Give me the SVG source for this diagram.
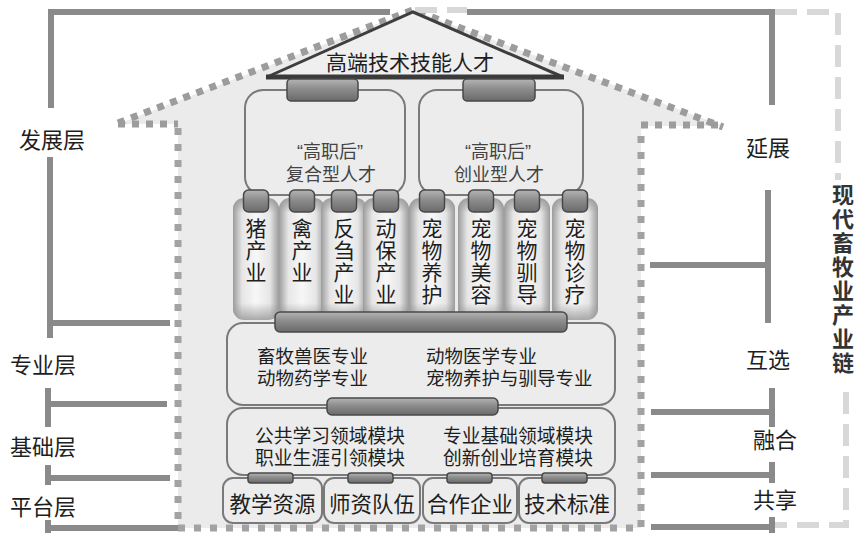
<svg xmlns="http://www.w3.org/2000/svg" width="858" height="533" viewBox="0 0 858 533">
<defs>
<linearGradient id="barG" x1="0" y1="0" x2="0" y2="1">
<stop offset="0" stop-color="#b4b4b4"/><stop offset="0.45" stop-color="#8c8c8c"/><stop offset="1" stop-color="#6a6a6a"/>
</linearGradient>
<linearGradient id="colH" x1="0" y1="0" x2="1" y2="0">
<stop offset="0" stop-color="#9c9c9c"/><stop offset="0.2" stop-color="#e6e6e6"/><stop offset="0.5" stop-color="#f7f7f7"/><stop offset="0.8" stop-color="#e6e6e6"/><stop offset="1" stop-color="#9c9c9c"/>
</linearGradient>
<linearGradient id="colV" x1="0" y1="0" x2="0" y2="1">
<stop offset="0" stop-color="#969696" stop-opacity="0.9"/><stop offset="0.12" stop-color="#969696" stop-opacity="0"/><stop offset="0.86" stop-color="#969696" stop-opacity="0"/><stop offset="1" stop-color="#969696" stop-opacity="0.8"/>
</linearGradient>
<style>
.t{font-family:'Liberation Sans','Noto Sans CJK SC',sans-serif;fill:#1e1e1e}
.g{fill:#444}
.box{fill:#ececec;stroke:#7a7a7a;stroke-width:2}
.bar{fill:url(#barG);stroke:#484848;stroke-width:1.5}
.dk{fill:none;stroke:#8a8a8a;stroke-width:6}
.lt{fill:none;stroke:#d8d8d8;stroke-width:6;stroke-dasharray:22 10}
.dot{fill:none;stroke:#a2a2a2;stroke-width:7;stroke-dasharray:7 9}
.rdot{fill:none;stroke:#9c9c9c;stroke-width:7;stroke-dasharray:7 7}
.ct{font-size:21px;text-anchor:middle}
.ch{font-size:22px;font-weight:bold;text-anchor:middle;fill:#333}
</style>
</defs>
<rect width="858" height="533" fill="#ffffff"/>

<g id="house">
<polygon points="118,124 413,10 723,126 641,126 641,528 178,528 178,124" fill="#ebebeb"/>
<path class="rdot" d="M118,123 L413,10 L723,127"/>
<path class="rdot" d="M118,124 H178 M641,125 H723"/>
<path class="dot" d="M178,128 V528 H641 V128"/>
</g>

<g id="connectors">
<path class="dk" d="M390,12 H51 V108"/>
<path class="dk" d="M50,157 V338 M50,323 H170"/>
<path class="dk" d="M48,388 V427 M48,404 H167"/>
<path class="dk" d="M48,465 V485 M48,478 H170"/>
<path class="dk" d="M48,520 V533 M48,528 H178"/>
<path class="dk" d="M467,12 H772 V105"/>
<path class="dk" d="M768,190 V323 M650,265 H768"/>
<path class="dk" d="M772,388 V427 M651,412 H772"/>
<path class="dk" d="M772,462 V483 M651,475 H772"/>
<path class="dk" d="M772,517 V533 M651,527 H772"/>
<path class="lt" d="M415,10 H467"/>
<path class="lt" d="M775,12 H838 V180"/>
<path class="lt" d="M846,392 V525 H775"/>
</g>

<g id="n-top">
<polygon points="267,77 413,12 563,77" fill="#efefef" stroke="#3e3e3e" stroke-width="3" stroke-linejoin="miter"/>
<line x1="266" y1="77" x2="564" y2="77" stroke="#3a3a3a" stroke-width="5"/>
<text class="t" x="410" y="70" font-size="21" text-anchor="middle">高端技术技能人才</text>
</g>

<g id="n-fuhe">
<rect class="box" x="245" y="90" width="160" height="105" rx="18"/>
<rect class="bar" x="287" y="79" width="71" height="22" rx="4"/>
<text class="t g" x="330" y="158" font-size="18" text-anchor="middle">“高职后”</text>
<text class="t g" x="331" y="181" font-size="18" text-anchor="middle">复合型人才</text>
</g>

<g id="n-chuangye">
<rect class="box" x="419" y="90" width="164" height="105" rx="18"/>
<rect class="bar" x="463" y="79" width="72" height="22" rx="4"/>
<text class="t g" x="498" y="158" font-size="18" text-anchor="middle">“高职后”</text>
<text class="t g" x="499" y="181" font-size="18" text-anchor="middle">创业型人才</text>
</g>

<g id="n-columns">
<g id="c1"><rect x="233" y="198" width="46" height="122" rx="11" fill="url(#colH)"/><rect x="233" y="198" width="46" height="122" rx="11" fill="url(#colV)"/><rect class="bar" x="243.5" y="190" width="25" height="22" rx="5"/>
<text class="t ct" x="256" y="236">猪</text><text class="t ct" x="256" y="258">产</text><text class="t ct" x="256" y="280">业</text></g>
<g id="c2"><rect x="279" y="198" width="46" height="122" rx="11" fill="url(#colH)"/><rect x="279" y="198" width="46" height="122" rx="11" fill="url(#colV)"/><rect class="bar" x="289.5" y="190" width="25" height="22" rx="5"/>
<text class="t ct" x="302" y="236">禽</text><text class="t ct" x="302" y="258">产</text><text class="t ct" x="302" y="280">业</text></g>
<g id="c3"><rect x="321" y="198" width="46" height="122" rx="11" fill="url(#colH)"/><rect x="321" y="198" width="46" height="122" rx="11" fill="url(#colV)"/><rect class="bar" x="331.5" y="190" width="25" height="22" rx="5"/>
<text class="t ct" x="344" y="236">反</text><text class="t ct" x="344" y="258">刍</text><text class="t ct" x="344" y="280">产</text><text class="t ct" x="344" y="302">业</text></g>
<g id="c4"><rect x="363" y="198" width="46" height="122" rx="11" fill="url(#colH)"/><rect x="363" y="198" width="46" height="122" rx="11" fill="url(#colV)"/><rect class="bar" x="373.5" y="190" width="25" height="22" rx="5"/>
<text class="t ct" x="386" y="236">动</text><text class="t ct" x="386" y="258">保</text><text class="t ct" x="386" y="280">产</text><text class="t ct" x="386" y="302">业</text></g>
<g id="c5"><rect x="409" y="198" width="46" height="122" rx="11" fill="url(#colH)"/><rect x="409" y="198" width="46" height="122" rx="11" fill="url(#colV)"/><rect class="bar" x="419.5" y="190" width="25" height="22" rx="5"/>
<text class="t ct" x="432" y="236">宠</text><text class="t ct" x="432" y="258">物</text><text class="t ct" x="432" y="280">养</text><text class="t ct" x="432" y="302">护</text></g>
<g id="c6"><rect x="458" y="198" width="46" height="122" rx="11" fill="url(#colH)"/><rect x="458" y="198" width="46" height="122" rx="11" fill="url(#colV)"/><rect class="bar" x="468.5" y="190" width="25" height="22" rx="5"/>
<text class="t ct" x="481" y="236">宠</text><text class="t ct" x="481" y="258">物</text><text class="t ct" x="481" y="280">美</text><text class="t ct" x="481" y="302">容</text></g>
<g id="c7"><rect x="504" y="198" width="46" height="122" rx="11" fill="url(#colH)"/><rect x="504" y="198" width="46" height="122" rx="11" fill="url(#colV)"/><rect class="bar" x="514.5" y="190" width="25" height="22" rx="5"/>
<text class="t ct" x="527" y="236">宠</text><text class="t ct" x="527" y="258">物</text><text class="t ct" x="527" y="280">驯</text><text class="t ct" x="527" y="302">导</text></g>
<g id="c8"><rect x="552" y="198" width="46" height="122" rx="11" fill="url(#colH)"/><rect x="552" y="198" width="46" height="122" rx="11" fill="url(#colV)"/><rect class="bar" x="562.5" y="190" width="25" height="22" rx="5"/>
<text class="t ct" x="575" y="236">宠</text><text class="t ct" x="575" y="258">物</text><text class="t ct" x="575" y="280">诊</text><text class="t ct" x="575" y="302">疗</text></g>
</g>

<g id="n-major">
<rect class="box" x="227" y="323" width="388" height="82" rx="16"/>
<rect class="bar" x="275" y="312" width="292" height="20" rx="5"/>
<text class="t" x="257" y="363" font-size="18.5">畜牧兽医专业</text>
<text class="t" x="257" y="385" font-size="18.5">动物药学专业</text>
<text class="t" x="426" y="363" font-size="18.5">动物医学专业</text>
<text class="t" x="426" y="385" font-size="18.5">宠物养护与驯导专业</text>
</g>

<g id="n-module">
<rect class="box" x="227" y="408" width="388" height="67" rx="16"/>
<rect class="bar" x="327" y="398" width="171" height="17" rx="5"/>
<text class="t" x="255" y="443" font-size="18.75">公共学习领域模块</text>
<text class="t" x="255" y="465" font-size="18.75">职业生涯引领模块</text>
<text class="t" x="443" y="443" font-size="18.75">专业基础领域模块</text>
<text class="t" x="443" y="465" font-size="18.75">创新创业培育模块</text>
</g>

<g id="n-res">
<rect class="box" x="223" y="478" width="99" height="45" rx="10"/>
<rect class="bar" x="248" y="473" width="45" height="10" rx="3"/>
<text class="t" x="272.5" y="512" font-size="21.5" text-anchor="middle">教学资源</text>
</g>
<g id="n-teacher">
<rect class="box" x="324" y="478" width="96" height="45" rx="10"/>
<rect class="bar" x="348" y="473" width="45" height="10" rx="3"/>
<text class="t" x="372" y="512" font-size="21.5" text-anchor="middle">师资队伍</text>
</g>
<g id="n-enterprise">
<rect class="box" x="423" y="478" width="94" height="45" rx="10"/>
<rect class="bar" x="447" y="473" width="45" height="10" rx="3"/>
<text class="t" x="470" y="512" font-size="21.5" text-anchor="middle">合作企业</text>
</g>
<g id="n-standard">
<rect class="box" x="519" y="478" width="96" height="45" rx="10"/>
<rect class="bar" x="542" y="473" width="45" height="10" rx="3"/>
<text class="t" x="567" y="512" font-size="21.5" text-anchor="middle">技术标准</text>
</g>

<g id="labels-left">
<text class="t" x="52" y="148" font-size="22" text-anchor="middle">发展层</text>
<text class="t" x="43" y="373" font-size="22" text-anchor="middle">专业层</text>
<text class="t" x="43" y="455" font-size="22" text-anchor="middle">基础层</text>
<text class="t" x="43" y="515" font-size="22" text-anchor="middle">平台层</text>
</g>
<g id="labels-right">
<text class="t" x="768" y="156" font-size="22" text-anchor="middle">延展</text>
<text class="t" x="768" y="368" font-size="22" text-anchor="middle">互选</text>
<text class="t" x="775" y="448" font-size="22" text-anchor="middle">融合</text>
<text class="t" x="775" y="508" font-size="22" text-anchor="middle">共享</text>
</g>
<g id="label-chain">
<text class="t ch" x="843" y="203">现</text>
<text class="t ch" x="843" y="227">代</text>
<text class="t ch" x="843" y="251">畜</text>
<text class="t ch" x="843" y="275">牧</text>
<text class="t ch" x="843" y="299">业</text>
<text class="t ch" x="843" y="323">产</text>
<text class="t ch" x="843" y="347">业</text>
<text class="t ch" x="843" y="371">链</text>
</g>
</svg>
